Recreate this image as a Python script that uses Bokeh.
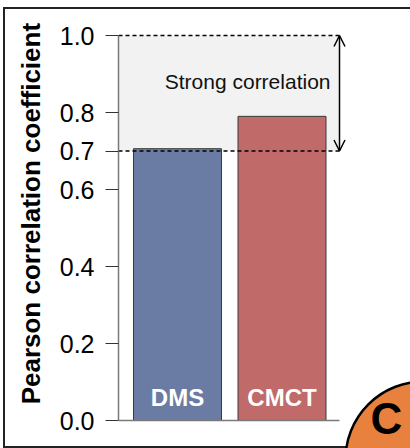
from bokeh.plotting import figure
from bokeh.models import (Range1d, FixedTicker, NumeralTickFormatter,
                          Arrow, OpenHead, ColumnDataSource)
from bokeh.core.properties import value
from bokeh.embed import file_html
from bokeh.resources import INLINE

# ---- data ----
categories = ["DMS", "CMCT"]
correlations = [0.706, 0.79]
bar_colors = ["#6a7ca4", "#c06a6a"]
tick_values = [0.0, 0.2, 0.4, 0.6, 0.7, 0.8, 1.0]
strong_low = 0.7
strong_high = 1.0
ylabel = "Pearson correlation coefficient"
band_label = "Strong correlation"
panel_letter = "C"

FONT = "Liberation Sans"

# ---- layout helpers (picture pixel -> data) ----
PX_PER_X = 104.5
X0_PX = 177.0
Y0_PX = 420.0
PX_PER_Y = 385.0

def dx(px):
    return 1 + (px - X0_PX) / PX_PER_X

def dy(py):
    return (Y0_PX - py) / PX_PER_Y

W, H = 410, 448
FRAME_LEFT = 118
x_start, x_end = dx(FRAME_LEFT), dx(W)
y_start, y_end = dy(H), dy(0)

p = figure(width=W, height=H, output_backend="svg", toolbar_location=None,
           x_range=Range1d(x_start, x_end), y_range=Range1d(y_start, y_end),
           x_axis_location=None, min_border_left=FRAME_LEFT, min_border_right=0,
           min_border_top=0, min_border_bottom=0)
p.grid.visible = False
p.outline_line_color = None
p.background_fill_color = None
p.border_fill_color = None
p.styles = {
    "background-color": "white",
    "background-image": ("linear-gradient(#222222, #222222), linear-gradient(#222222, #222222), "
                         "linear-gradient(#222222, #222222)"),
    "background-size": "2px 441px, 407px 2px, 407px 2px",
    "background-position": "3px 7px, 3px 7px, 3px 446px",
    "background-repeat": "no-repeat",
}

yax = p.yaxis[0]
yax.ticker = FixedTicker(ticks=tick_values)
yax.formatter = NumeralTickFormatter(format="0.0")
yax.bounds = (0, 1)
yax.major_tick_out = 13
yax.major_tick_in = 0
yax.minor_tick_line_color = None
yax.major_tick_line_color = "#333333"
yax.axis_line_color = "#7a7a7a"
yax.axis_line_width = 1.5
yax.major_label_text_font = FONT
yax.major_label_text_font_size = "25px"
yax.major_label_text_color = "black"
yax.major_label_standoff = 11
yax.axis_label = "\u00a0" * 3 + ylabel
yax.axis_label_text_font = FONT
yax.axis_label_text_font_size = "26px"
yax.axis_label_text_font_style = "bold"
yax.axis_label_text_color = "black"
yax.axis_label_standoff = 11

xs = [i + 1 for i in range(len(categories))]
band_right = dx(339)

# strong correlation band
p.quad(left=[x_start], right=[band_right], bottom=[strong_low], top=[strong_high],
       fill_color="#f2f2f2", line_color=None)

# bars
src = ColumnDataSource(dict(x=xs, top=correlations, color=bar_colors, cat=categories))
p.vbar(x="x", top="top", bottom=0, width=88 / PX_PER_X, fill_color="color",
       line_color="#3a3a3a", line_width=1, source=src)

# baseline
p.segment(x0=[x_start], y0=[0], x1=[band_right], y1=[0], line_color="#7a7a7a", line_width=1.5)

# dashed thresholds
p.segment(x0=[x_start, x_start], y0=[strong_low, strong_high], x1=[band_right, band_right],
          y1=[strong_low, strong_high], line_color="black", line_width=1.3, line_dash="4 3")

# double arrow
p.add_layout(Arrow(x_start=band_right, y_start=strong_low, x_end=band_right, y_end=strong_high,
                   start=OpenHead(size=11, line_width=1.5), end=OpenHead(size=11, line_width=1.5),
                   line_width=1.5, line_color="black"))

# band label
p.text(x=[dx(330)], y=[dy(81)], text=[band_label], text_align="right",
       text_baseline="middle", text_font=value(FONT), text_font_size="21px",
       text_color="#111111")

# bar labels
p.text(x="x", y=dy(397), text="cat", source=src, text_align="center",
       text_baseline="middle", text_font=value(FONT), text_font_size="24px",
       text_font_style="bold", text_color="white")

# panel badge
p.circle(x=[dx(423)], y=[dy(459)], radius=78, radius_units="screen",
         fill_color="#e8803e", line_color="black", line_width=2.5)
p.text(x=[dx(386)], y=[dy(418)], text=[panel_letter], text_align="center",
       text_baseline="middle", text_font=value(FONT), text_font_size="44px",
       text_font_style="bold", text_color="black")

open("out.html", "w").write(file_html(p, INLINE))
